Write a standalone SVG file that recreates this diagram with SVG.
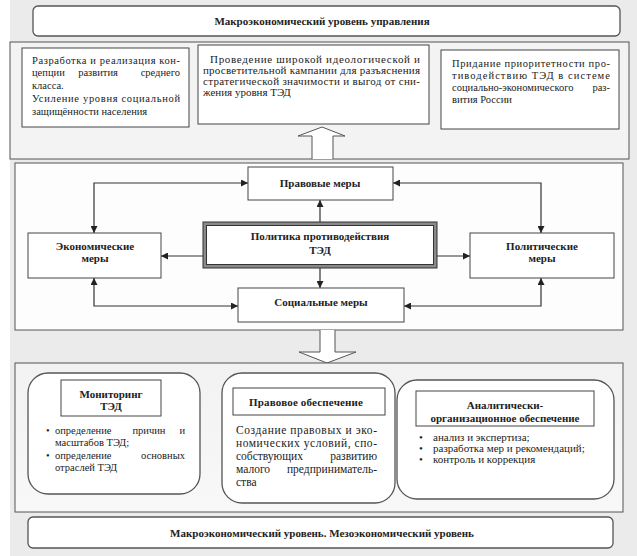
<svg xmlns="http://www.w3.org/2000/svg" width="637" height="556" viewBox="0 0 637 556">
<style>
text{font-family:"Liberation Serif","Times New Roman",serif;font-size:11px;fill:#222}
.s{font-size:10.5px}
.l{font-size:11.5px}
.b{font-weight:bold}
.c{text-anchor:middle}
.e{text-anchor:end}
.box{fill:#fff;stroke:#444;stroke-width:1}
.rbox{fill:#fff;stroke:#555;stroke-width:1.3}
.panel{stroke:#555;stroke-width:1}
.con{fill:none;stroke:#333;stroke-width:1.2}
.blk{fill:#fff;stroke:#555;stroke-width:1}
</style>
<defs>
<marker id="ah" viewBox="0 0 10 10" refX="10" refY="5" markerWidth="7" markerHeight="7" markerUnits="userSpaceOnUse" orient="auto-start-reverse">
<path d="M0,0 L10,5 L0,10 z" fill="#222"/>
</marker>
<linearGradient id="pg" x1="0" y1="0" x2="0" y2="1">
<stop offset="0" stop-color="#f2f2f2"/>
<stop offset="1" stop-color="#f8f8f8"/>
</linearGradient>
</defs>
<rect x="0" y="0" width="637" height="556" fill="#fff"/>
<rect x="10" y="0" width="627" height="556" fill="#ebebeb"/>

<g id="top-title">
<rect x="33" y="6" width="587" height="30" rx="5" class="rbox"/>
<text x="322" y="25" class="b c">Макроэкономический уровень управления</text>
</g>

<g id="top-panel">
<rect x="10" y="42" width="619" height="117" fill="#f3f3f3" class="panel"/>
</g>

<g id="top-box-1">
<rect x="22" y="48" width="167" height="79" class="box"/>
<text x="32" y="64" class="s" textLength="148" lengthAdjust="spacing">Разработка и реализация кон-</text>
<text y="76" class="s"><tspan x="32">цепции</tspan><tspan x="98" class="c">развития</tspan><tspan x="180" class="e">среднего</tspan></text>
<text x="32" y="89" class="s">класса.</text>
<text x="32" y="102" class="s" textLength="148" lengthAdjust="spacing">Усиление уровня социальной</text>
<text x="32" y="115" class="s">защищённости населения</text>
</g>

<g id="top-box-2">
<rect x="198" y="45" width="231" height="79" class="box"/>
<text x="210" y="63" textLength="210" lengthAdjust="spacing">Проведение широкой идеологической и</text>
<text x="203" y="74" textLength="217" lengthAdjust="spacing">просветительной кампании для разъяснения</text>
<text x="203" y="85" textLength="217" lengthAdjust="spacing">стратегической значимости и выгод от сни-</text>
<text x="203" y="96">жения уровня ТЭД</text>
</g>

<g id="top-box-3">
<rect x="441" y="50" width="178" height="79" class="box"/>
<text x="452" y="67" class="s" textLength="158" lengthAdjust="spacing">Придание приоритетности про-</text>
<text x="452" y="79" class="s" textLength="158" lengthAdjust="spacing">тиводействию ТЭД в системе</text>
<text y="91" class="s"><tspan x="452">социально-экономического</tspan><tspan x="610" class="e">раз-</tspan></text>
<text x="452" y="103" class="s">вития России</text>
</g>

<g id="arrow-up">
<path d="M312,159 V136 H298 L322,127 L345,136 H333 V159" class="blk"/>
</g>

<g id="middle-panel">
<rect x="15" y="163" width="608" height="167" fill="#fdfdfd" class="panel"/>
</g>

<g id="arrow-down">
<path d="M320,330 V352 H299 L327,363 L356,352 H335 V330" class="blk"/>
</g>

<g id="bottom-panel">
<rect x="15" y="363" width="608" height="149" fill="url(#pg)" class="panel"/>
</g>

<g id="connectors">
<path d="M94,233 V183 H248" class="con" marker-start="url(#ah)" marker-end="url(#ah)"/>
<path d="M94,278 V306 H238" class="con" marker-start="url(#ah)" marker-end="url(#ah)"/>
<path d="M541,233 V183 H393" class="con" marker-start="url(#ah)" marker-end="url(#ah)"/>
<path d="M541,278 V306 H404" class="con" marker-start="url(#ah)" marker-end="url(#ah)"/>
<path d="M203,256 H161" class="con" marker-end="url(#ah)"/>
<path d="M437,256 H470" class="con" marker-end="url(#ah)"/>
<path d="M320,222 V200" class="con" marker-end="url(#ah)"/>
<path d="M320,268 V288" class="con" marker-end="url(#ah)"/>
</g>

<g id="pravovye">
<rect x="248" y="167" width="145" height="33" class="box"/>
<text x="320" y="187" class="b c">Правовые меры</text>
</g>

<g id="politika">
<rect x="203" y="222" width="234" height="46" fill="#8a8a8a" stroke="#333" stroke-width="1"/>
<rect x="206.5" y="225.5" width="227" height="39" fill="#fff" stroke="#333" stroke-width="1"/>
<text x="320" y="240" class="b c">Политика противодействия</text>
<text x="320" y="254" class="b c">ТЭД</text>
</g>

<g id="ekonomicheskie">
<rect x="28" y="233" width="133" height="45" class="box"/>
<text x="95" y="250" class="b c">Экономические</text>
<text x="95" y="262" class="b c">меры</text>
</g>

<g id="politicheskie">
<rect x="470" y="233" width="144" height="45" class="box"/>
<text x="542" y="250" class="b c">Политические</text>
<text x="542" y="262" class="b c">меры</text>
</g>

<g id="socialnye">
<rect x="238" y="288" width="166" height="34" class="box"/>
<text x="321" y="306" class="b c">Социальные меры</text>
</g>

<g id="monitoring">
<rect x="28" y="373" width="172" height="121" rx="20" class="rbox"/>
<rect x="61" y="380" width="100" height="36" class="box"/>
<text x="111" y="398" class="b c">Мониторинг</text>
<text x="111" y="410" class="b c">ТЭД</text>
<text x="46" y="434" class="s">•</text>
<text y="434" class="s"><tspan x="55">определение</tspan><tspan x="149" class="c">причин</tspan><tspan x="185" class="e">и</tspan></text>
<text x="55" y="446" class="s">масштабов ТЭД;</text>
<text x="46" y="459" class="s">•</text>
<text y="459" class="s"><tspan x="55">определение</tspan><tspan x="185" class="e">основных</tspan></text>
<text x="55" y="471" class="s">отраслей ТЭД</text>
</g>

<g id="pravovoe">
<rect x="222" y="373" width="173" height="130" rx="20" class="rbox"/>
<rect x="233" y="388" width="152" height="27" class="box"/>
<text x="249" y="406" class="b" textLength="114" lengthAdjust="spacing">Правовое обеспечение</text>
<text x="236" y="434" class="l" textLength="141" lengthAdjust="spacing">Создание правовых и эко-</text>
<text x="236" y="447" class="l" textLength="141" lengthAdjust="spacing">номических условий, спо-</text>
<text y="460" class="l"><tspan x="236">собствующих</tspan><tspan x="377" class="e">развитию</tspan></text>
<text y="473" class="l"><tspan x="236">малого</tspan><tspan x="377" class="e">предприниматель-</tspan></text>
<text x="236" y="486" class="l">ства</text>
</g>

<g id="analiticheski">
<rect x="397" y="380" width="217" height="119" rx="20" class="rbox"/>
<rect x="416" y="391" width="178" height="35" class="box"/>
<text x="505" y="409" class="b c">Аналитически-</text>
<text x="505" y="422" class="b c">организационное обеспечение</text>
<text x="419" y="441">•</text>
<text x="433" y="441">анализ и экспертиза;</text>
<text x="419" y="452">•</text>
<text x="433" y="452">разработка мер и рекомендаций;</text>
<text x="419" y="463">•</text>
<text x="433" y="463">контроль и коррекция</text>
</g>

<g id="bottom-title">
<rect x="28" y="517" width="585" height="31" rx="5" class="rbox"/>
<text x="322" y="537" class="b c">Макроэкономический уровень.  Мезоэкономический уровень</text>
</g>
</svg>
